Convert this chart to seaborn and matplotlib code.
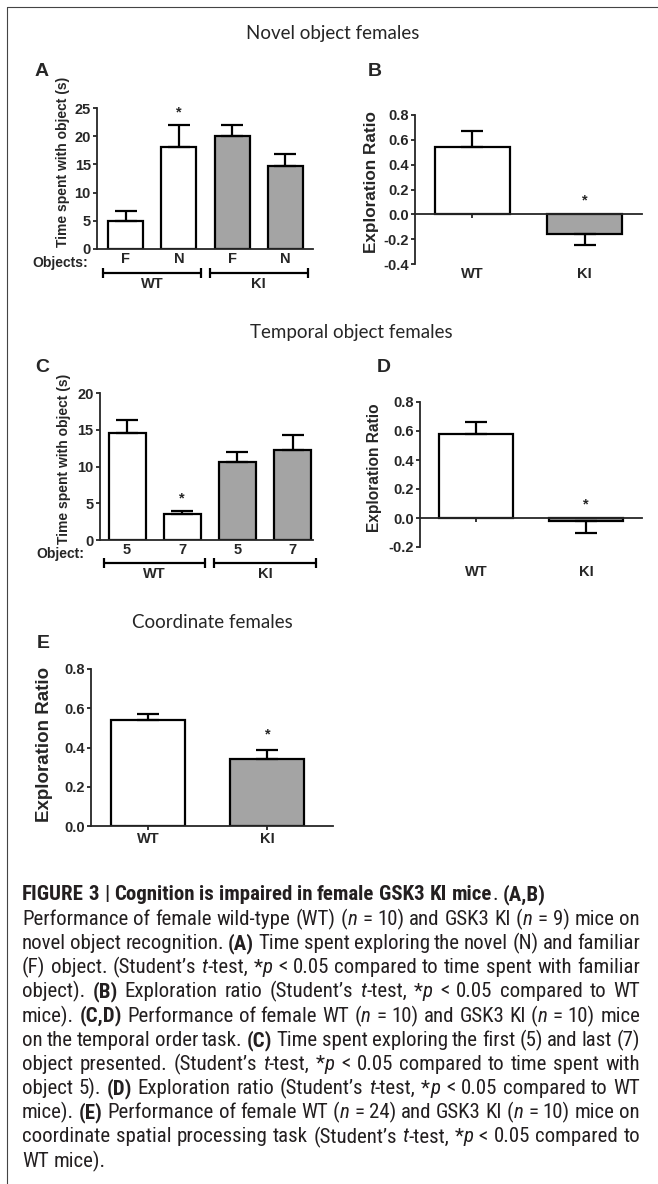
import matplotlib
matplotlib.use('Agg')
import matplotlib.pyplot as plt
from matplotlib.lines import Line2D
from matplotlib.transforms import offset_copy
from matplotlib import font_manager
import seaborn as sns
import pandas as pd

W, H = 658, 1184

# A: novel object, time spent with object
a_objects = ['F', 'N', 'F', 'N']
a_groups = ['WT', 'WT', 'KI', 'KI']
a_time = [5.0, 18.0, 20.0, 14.8]
a_sem = [1.7, 4.0, 1.9, 2.0]
a_sig = [False, True, False, False]

# B: novel object exploration ratio
b_groups = ['WT', 'KI']
b_ratio = [0.54, -0.16]
b_sem = [0.13, 0.09]
b_sig = [False, True]

# C: temporal object, time spent with object
c_objects = ['5', '7', '5', '7']
c_groups = ['WT', 'WT', 'KI', 'KI']
c_time = [14.5, 3.5, 10.6, 12.2]
c_sem = [1.8, 0.5, 1.4, 2.1]
c_sig = [False, True, False, False]

# D: temporal object exploration ratio
d_groups = ['WT', 'KI']
d_ratio = [0.58, -0.02]
d_sem = [0.08, 0.08]
d_sig = [False, True]

# E: coordinate exploration ratio
e_groups = ['WT', 'KI']
e_ratio = [0.54, 0.34]
e_sem = [0.03, 0.045]
e_sig = [False, True]

colors = {'WT': 'white', 'KI': '#a4a4a4'}


def find_file(family, **kw):
    try:
        return font_manager.findfont(font_manager.FontProperties(family=family, **kw),
                                     fallback_to_default=False)
    except ValueError:
        return None


sns.set_style('ticks')
plt.rcParams['font.family'] = ['Liberation Sans', 'DejaVu Sans']
plt.rcParams['axes.unicode_minus'] = False
title_family = 'Lato' if find_file('Lato') else 'Open Sans'

# caption font: a condensed grotesque with real bold and italic files
cap_fonts = None
for fam in ['Liberation Sans Narrow', 'Roboto Condensed', 'IBM Plex Sans Condensed',
            'Fira Sans Condensed', 'Encode Sans Condensed']:
    fn = find_file(fam)
    fb = find_file(fam, weight='bold')
    fi = find_file(fam, style='italic')
    if fn and fb and fi and 'bold' in fb.lower() and 'italic' in fi.lower():
        cap_fonts = {'n': font_manager.FontProperties(fname=fn),
                     'b': font_manager.FontProperties(fname=fb),
                     'i': font_manager.FontProperties(fname=fi)}
        break
if cap_fonts is None:
    cap_fonts = {'n': font_manager.FontProperties(family='Liberation Sans'),
                 'b': font_manager.FontProperties(family='Liberation Sans', weight='bold'),
                 'i': font_manager.FontProperties(family='Liberation Sans', style='italic')}

fig = plt.figure(figsize=(W / 100, H / 100), dpi=100)


def px_axes(left, top, right, bottom):
    return fig.add_axes([left / W, 1 - bottom / H, (right - left) / W, (bottom - top) / H])


def fig_text(x, y, s, **kw):
    return fig.text(x / W, 1 - y / H, s, **kw)


def draw_bars(ax, groups, values, sems, sig, width, star_off):
    n = len(values)
    df = pd.DataFrame({'pos': list(range(n)), 'val': values, 'grp': groups})
    sns.barplot(data=df, x='pos', y='val', hue='grp', palette=colors, dodge=False,
                width=width, edgecolor='black', linewidth=1.6, legend=False, ax=ax)
    lo = [s if v < 0 else 0 for v, s in zip(values, sems)]
    hi = [s if v >= 0 else 0 for v, s in zip(values, sems)]
    ax.errorbar(list(range(n)), values, yerr=[lo, hi], fmt='none', ecolor='black',
                elinewidth=1.6, capsize=8, capthick=1.6, zorder=3)
    for i in range(n):
        if sig[i]:
            top = max(values[i] + hi[i], 0)
            ax.annotate('*', xy=(i, top), xytext=(0, star_off), textcoords='offset pixels',
                        ha='center', va='center', fontsize=10.5, fontweight='bold')


def style_axes(ax, yticks, fmt, ylabel, ysize, label_xy):
    ax.set_yticks(yticks)
    ax.set_yticklabels([fmt.format(v) for v in yticks], fontsize=10.5, fontweight='bold')
    ax.spines['top'].set_visible(False)
    ax.spines['right'].set_visible(False)
    ax.spines['left'].set_linewidth(1.3)
    ax.spines['bottom'].set_linewidth(1.3)
    ax.tick_params(axis='y', direction='out', length=3, width=1.3, pad=1.5)
    ax.set_xlabel('')
    ax.set_ylabel(ylabel, fontsize=ysize, fontweight='bold')
    ax.yaxis.set_label_coords(*label_xy)


def group_brackets(ax, groups, off_line, off_text):
    t_line = offset_copy(ax.get_xaxis_transform(), fig=fig, y=-off_line, units='dots')
    t_text = offset_copy(ax.get_xaxis_transform(), fig=fig, y=-off_text, units='dots')
    for name in dict.fromkeys(groups):
        idx = [i for i, g in enumerate(groups) if g == name]
        x0, x1 = idx[0] - 0.42, idx[-1] + 0.42
        ax.plot([x0, x1], [0, 0], transform=t_line, color='black', lw=1.6, marker='|',
                markersize=7, markeredgewidth=1.6, clip_on=False)
        ax.text((x0 + x1) / 2, 0, name, transform=t_text, ha='center', va='center',
                fontsize=10.5, fontweight='bold')


# ---- panel A
ax = px_axes(97, 108, 313, 249)
draw_bars(ax, a_groups, a_time, a_sem, a_sig, 0.66, 12)
style_axes(ax, [0, 5, 10, 15, 20, 25], '{:g}', 'Time spent with object (s)', 10, (-0.125, 0.62))
ax.set_ylim(0, 25)
ax.set_xlim(-0.535, 3.516)
ax.set_xticks(range(4))
ax.set_xticklabels(a_objects, fontsize=10.5, fontweight='bold')
ax.tick_params(axis='x', length=0, pad=2)
ax.annotate('Objects:', xy=(0, 0), xycoords='axes fraction', xytext=(-9, -14),
            textcoords='offset pixels', ha='right', va='center', fontsize=10, fontweight='bold')
group_brackets(ax, a_groups, 24, 35)

# ---- panel B
ax = px_axes(415, 115, 642, 264)
draw_bars(ax, b_groups, b_ratio, b_sem, b_sig, 0.67, 14)
style_axes(ax, [-0.4, -0.2, 0.0, 0.2, 0.4, 0.6, 0.8], '{:.1f}', 'Exploration Ratio', 12.3, (-0.16, 0.55))
ax.set_ylim(-0.4, 0.8)
ax.set_xlim(-0.513, 1.513)
ax.spines['bottom'].set_position(('data', 0))
ax.set_xticks(range(2))
ax.set_xticklabels(b_groups, fontsize=10.5, fontweight='bold')
ax.tick_params(axis='x', direction='out', length=3, width=1.3, pad=35)

# ---- panel C
ax = px_axes(100, 393, 313, 540)
draw_bars(ax, c_groups, c_time, c_sem, c_sig, 0.67, 12)
style_axes(ax, [0, 5, 10, 15, 20], '{:g}', 'Time spent with object (s)', 10, (-0.135, 0.55))
ax.set_ylim(0, 20)
ax.set_xlim(-0.49, 3.37)
ax.set_xticks(range(4))
ax.set_xticklabels(c_objects, fontsize=10.5, fontweight='bold')
ax.tick_params(axis='x', length=0, pad=2)
ax.annotate('Object:', xy=(0, 0), xycoords='axes fraction', xytext=(-16, -14),
            textcoords='offset pixels', ha='right', va='center', fontsize=10, fontweight='bold')
group_brackets(ax, c_groups, 23, 34)

# ---- panel D
ax = px_axes(420, 402, 642, 547)
draw_bars(ax, d_groups, d_ratio, d_sem, d_sig, 0.67, 14)
style_axes(ax, [-0.2, 0.0, 0.2, 0.4, 0.6, 0.8], '{:.1f}', 'Exploration Ratio', 11.2, (-0.17, 0.55))
ax.set_ylim(-0.2, 0.8)
ax.set_xlim(-0.51, 1.51)
ax.spines['bottom'].set_position(('data', 0))
ax.set_xticks(range(2))
ax.set_xticklabels(d_groups, fontsize=10.5, fontweight='bold')
ax.tick_params(axis='x', direction='out', length=3, width=1.3, pad=31)

# ---- panel E
ax = px_axes(91, 669, 333, 826)
draw_bars(ax, e_groups, e_ratio, e_sem, e_sig, 0.62, 16)
style_axes(ax, [0.0, 0.2, 0.4, 0.6, 0.8], '{:.1f}', 'Exploration Ratio', 13.5, (-0.155, 0.52))
ax.set_ylim(0, 0.8)
ax.set_xlim(-0.48, 1.55)
ax.set_xticks(range(2))
ax.set_xticklabels(e_groups, fontsize=10.5, fontweight='bold')
ax.tick_params(axis='x', direction='out', length=3, width=1.3, pad=1)

# ---- titles and panel letters
for s, x, y in [('Novel object females', 333, 33), ('Temporal object females', 351, 332),
                ('Coordinate females', 212, 622)]:
    fig_text(x, y, s, ha='center', va='center', fontsize=13.5, family=title_family)
for s, x, y in [('A', 35, 72), ('B', 368, 72), ('C', 35, 368), ('D', 377, 367), ('E', 37, 643)]:
    fig_text(x, y, s, ha='left', va='center', fontsize=14, fontweight='bold')

# ---- frame
fig.add_artist(Line2D([7 / W, 7 / W], [0, 1 - 7 / H], color='#444444', lw=0.8))
fig.add_artist(Line2D([7 / W, 1], [1 - 7 / H, 1 - 7 / H], color='#444444', lw=0.8))

# ---- caption
caption = [
    [('FIGURE 3 | Cognition is impaired in female GSK3 KI mice', 'b'), ('. ', 'n'), ('(A,B)', 'b')],
    [('Performance of female wild-type (WT) (', 'n'), ('n', 'i'), (' = 10) and GSK3 KI (', 'n'),
     ('n', 'i'), (' = 9) mice on', 'n')],
    [('novel object recognition. ', 'n'), ('(A)', 'b'), (' Time spent exploring the novel (N) and familiar', 'n')],
    [('(F) object. (Student\u2019s ', 'n'), ('t', 'i'), ('-test, *', 'n'), ('p', 'i'),
     (' < 0.05 compared to time spent with familiar', 'n')],
    [('object). ', 'n'), ('(B)', 'b'), (' Exploration ratio (Student\u2019s ', 'n'), ('t', 'i'),
     ('-test, *', 'n'), ('p', 'i'), (' < 0.05 compared to WT', 'n')],
    [('mice). ', 'n'), ('(C,D)', 'b'), (' Performance of female WT (', 'n'), ('n', 'i'),
     (' = 10) and GSK3 KI (', 'n'), ('n', 'i'), (' = 10) mice', 'n')],
    [('on the temporal order task. ', 'n'), ('(C)', 'b'), (' Time spent exploring the first (5) and last (7)', 'n')],
    [('object presented. (Student\u2019s ', 'n'), ('t', 'i'), ('-test, *', 'n'), ('p', 'i'),
     (' < 0.05 compared to time spent with', 'n')],
    [('object 5). ', 'n'), ('(D)', 'b'), (' Exploration ratio (Student\u2019s ', 'n'), ('t', 'i'),
     ('-test, *', 'n'), ('p', 'i'), (' < 0.05 compared to WT', 'n')],
    [('mice). ', 'n'), ('(E)', 'b'), (' Performance of female WT (', 'n'), ('n', 'i'),
     (' = 24) and GSK3 KI (', 'n'), ('n', 'i'), (' = 10) mice on', 'n')],
    [('coordinate spatial processing task (Student\u2019s ', 'n'), ('t', 'i'), ('-test, *', 'n'),
     ('p', 'i'), (' < 0.05 compared to', 'n')],
    [('WT mice).', 'n')],
]
justify = [False] + [True] * 10 + [False]
renderer = fig.canvas.get_renderer()
cap_left, cap_right = 22, 640
cap_size = 13


def measure(s, st, size):
    t = fig.text(0, 0, s, fontproperties=cap_fonts[st], fontsize=size)
    w = t.get_window_extent(renderer).width
    t.remove()
    return w


def split_words(segments):
    words = [[]]
    for text, st in segments:
        for k, part in enumerate(text.split(' ')):
            if k > 0:
                words.append([])
            if part:
                words[-1].append((part, st))
    return [w for w in words if w]


# size the caption so that the widest justified line needs about normal spacing
space_w = measure('a a', 'n', cap_size) - measure('aa', 'n', cap_size)
widest = 0
for segs, jus in zip(caption, justify):
    if not jus:
        continue
    ws = split_words(segs)
    tot = sum(measure(p, st, cap_size) for w in ws for p, st in w) + 0.8 * space_w * (len(ws) - 1)
    widest = max(widest, tot)
cap_size = min(cap_size * (cap_right - cap_left) / widest, 15)
space_w = measure('a a', 'n', cap_size) - measure('aa', 'n', cap_size)

for li, segs in enumerate(caption):
    ws = split_words(segs)
    widths = [[measure(p, st, cap_size) for p, st in w] for w in ws]
    total = sum(sum(w) for w in widths)
    gap = (cap_right - cap_left - total) / (len(ws) - 1) if justify[li] else space_w
    y = 895 + li * 24.2
    x = cap_left
    for w, wl in zip(ws, widths):
        for (p, st), pw in zip(w, wl):
            fig_text(x, y, p, ha='left', va='center', fontproperties=cap_fonts[st],
                     fontsize=cap_size, color='#231f20')
            x += pw
        x += gap

fig.savefig('out.png', dpi=100)
